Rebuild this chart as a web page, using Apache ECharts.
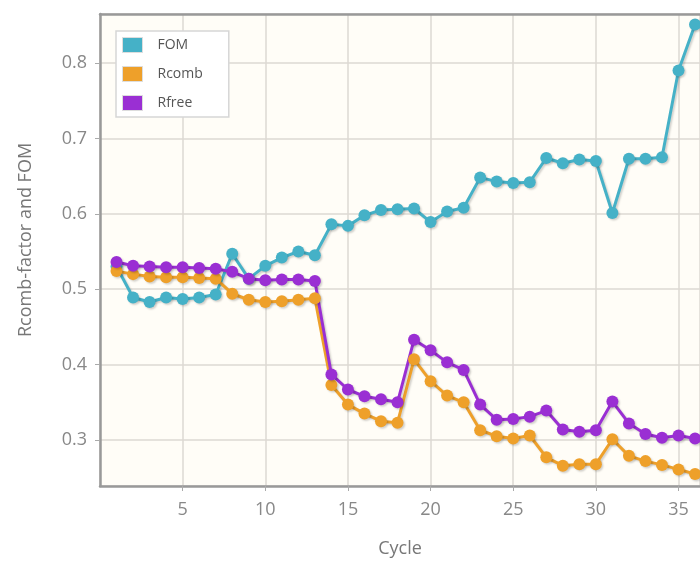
<!DOCTYPE html>
<html>
<head>
<meta charset="utf-8">
<script src="https://cdn.jsdelivr.net/npm/echarts@6/dist/echarts.min.js"></script>
<style>
html,body{margin:0;padding:0;background:#fff;}
#c{width:700px;height:563px;}
</style>
</head>
<body>
<div id="c"></div>
<script>
var cycles = [1,2,3,4,5,6,7,8,9,10,11,12,13,14,15,16,17,18,19,20,21,22,23,24,25,26,27,28,29,30,31,32,33,34,35,36];
var fom = [0.530,0.489,0.483,0.489,0.487,0.489,0.493,0.547,0.514,0.531,0.542,0.550,0.545,0.586,0.584,0.598,0.605,0.606,0.607,0.589,0.603,0.608,0.648,0.643,0.641,0.642,0.674,0.667,0.672,0.670,0.601,0.673,0.673,0.675,0.790,0.851];
var rcomb = [0.524,0.520,0.517,0.516,0.516,0.515,0.514,0.494,0.486,0.483,0.484,0.486,0.488,0.373,0.347,0.335,0.325,0.323,0.407,0.378,0.359,0.350,0.313,0.305,0.302,0.306,0.277,0.266,0.268,0.268,0.301,0.279,0.272,0.267,0.261,0.255];
var rfree = [0.536,0.531,0.530,0.529,0.529,0.528,0.527,0.523,0.514,0.512,0.513,0.513,0.511,0.387,0.367,0.358,0.354,0.350,0.433,0.419,0.403,0.393,0.347,0.327,0.328,0.331,0.339,0.314,0.311,0.313,0.351,0.322,0.308,0.303,0.306,0.302];
var seriesNames = ['FOM','Rcomb','Rfree'];
var colors = ['#45b1c7','#eea02a','#9a2fd3'];

function pairs(vals){ return cycles.map(function(c,i){ return [c, vals[i]]; }); }

var chart = echarts.init(document.getElementById('c'), null, {renderer:'canvas'});
var font = '"Open Sans", sans-serif';
function mkSeries(name, vals, color){
  return {
    name: name, type: 'line', data: pairs(vals), color: color,
    symbol: 'circle', symbolSize: 12, showSymbol: true,
    lineStyle: {width: 3, color: color, shadowColor: 'rgba(0,0,0,0.18)', shadowBlur: 2, shadowOffsetX: 1.5, shadowOffsetY: 1.5},
    itemStyle: {color: color, shadowColor: 'rgba(0,0,0,0.18)', shadowBlur: 2, shadowOffsetX: 1.5, shadowOffsetY: 1.5},
    emphasis: {disabled: true},
    animation: false,
    clip: true
  };
}
chart.setOption({
  animation: false,
  backgroundColor: '#ffffff',
  grid: {left: 100, right: 0, top: 14, bottom: 75, show: true, backgroundColor: '#fffdf7', borderWidth: 0, containLabel: false},
  legend: {
    orient: 'vertical', left: 116, top: 31,
    data: seriesNames,
    icon: 'rect', itemWidth: 20, itemHeight: 15, itemGap: 13,
    padding: [6, 26, 6, 6],
    backgroundColor: '#ffffff', borderColor: '#d6d6d6', borderWidth: 1.5,
    textStyle: {color: '#555', fontSize: 14, fontFamily: font, padding: [0,0,0,10]},
    itemStyle: {borderColor: '#dddddd', borderWidth: 1}
  },
  xAxis: [{
    type: 'value', min: 0, max: 36.3, interval: 5,
    name: 'Cycle', nameLocation: 'middle', nameGap: 54,
    nameTextStyle: {color: '#777', fontSize: 18, fontFamily: font},
    axisLine: {show: true, onZero: false, lineStyle: {color: '#999', width: 2.5}},
    axisTick: {show: true, length: 5, lineStyle: {color: '#aaa', width: 1}},
    axisLabel: {color: '#888', fontSize: 18, fontFamily: font, margin: 15, showMinLabel: false, showMaxLabel: false},
    splitLine: {show: true, lineStyle: {color: '#dcd9d3', width: 1.5}}
  },{
    type: 'value', position: 'top', min: 0, max: 36.3,
    axisLine: {show: true, lineStyle: {color: '#999', width: 2.5}},
    axisTick: {show: false}, axisLabel: {show: false}, splitLine: {show: false}
  }],
  yAxis: {
    type: 'value', min: 0.239, max: 0.865, splitNumber: 6,
    name: 'Rcomb-factor and FOM', nameLocation: 'middle', nameGap: 65,
    nameTextStyle: {color: '#777', fontSize: 18, fontFamily: font, padding: [0,0,0,20]},
    axisLine: {show: true, lineStyle: {color: '#999', width: 2.5}},
    axisTick: {show: true, length: 5, lineStyle: {color: '#aaa', width: 1}},
    axisLabel: {color: '#888', fontSize: 18, fontFamily: font, margin: 13, showMinLabel: false, showMaxLabel: false,
      formatter: function(v){ return v.toFixed(1); }},
    splitLine: {show: true, lineStyle: {color: '#dcd9d3', width: 1.5}}
  },
  series: [mkSeries('FOM', fom, colors[0]), mkSeries('Rcomb', rcomb, colors[1]), mkSeries('Rfree', rfree, colors[2])]
});
</script>
</body>
</html>
